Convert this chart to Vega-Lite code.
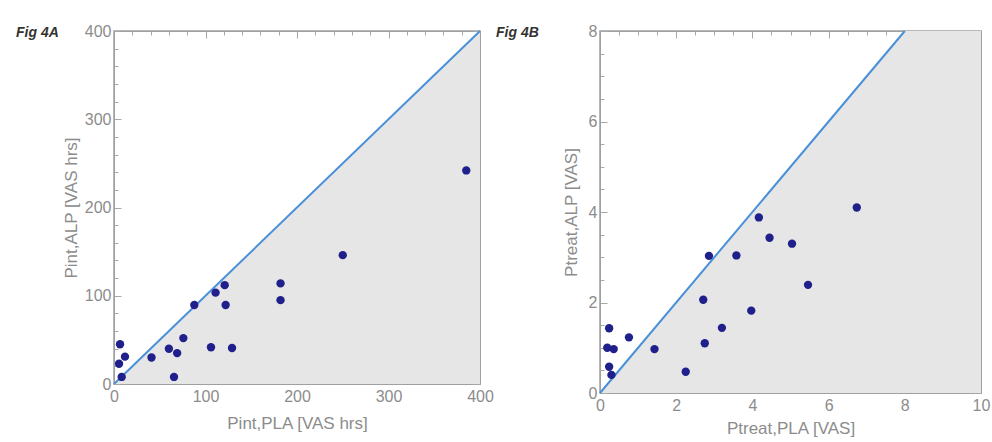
{
  "$schema": "https://vega.github.io/schema/vega-lite/v6.json",
  "padding": {"left": 15, "top": 22, "right": 0, "bottom": 0},
  "background": "white",
  "datasets": {
    "diagA": [{"x": 0, "y": 0}, {"x": 400, "y": 400}],
    "diagB": [{"x": 0, "y": 0}, {"x": 8, "y": 8}],
    "shadeB": [{"x": 0, "y": 0}, {"x": 8, "y": 8}, {"x": 10, "y": 8}],
    "ptsA": [
      {"pla": 8.4, "alp": 8}, {"pla": 6.6, "alp": 45}, {"pla": 5.5, "alp": 23}, {"pla": 12, "alp": 31},
      {"pla": 41, "alp": 30}, {"pla": 60, "alp": 40}, {"pla": 69, "alp": 35}, {"pla": 65.6, "alp": 8},
      {"pla": 75.8, "alp": 52}, {"pla": 87.8, "alp": 89.5}, {"pla": 106, "alp": 41.6}, {"pla": 111, "alp": 103.5},
      {"pla": 121, "alp": 112}, {"pla": 122, "alp": 89.5}, {"pla": 129, "alp": 40.8}, {"pla": 182, "alp": 114},
      {"pla": 182, "alp": 95}, {"pla": 250, "alp": 146}, {"pla": 385, "alp": 242}
    ],
    "ptsB": [
      {"pla": 0.24, "alp": 1.43}, {"pla": 0.76, "alp": 1.23}, {"pla": 0.19, "alp": 1.0}, {"pla": 0.36, "alp": 0.97},
      {"pla": 0.24, "alp": 0.58}, {"pla": 0.3, "alp": 0.4}, {"pla": 1.43, "alp": 0.97}, {"pla": 2.25, "alp": 0.47},
      {"pla": 2.75, "alp": 1.1}, {"pla": 3.2, "alp": 1.44}, {"pla": 3.97, "alp": 1.82}, {"pla": 2.71, "alp": 2.06},
      {"pla": 2.86, "alp": 3.03}, {"pla": 3.58, "alp": 3.04}, {"pla": 4.45, "alp": 3.43}, {"pla": 5.04, "alp": 3.3},
      {"pla": 5.46, "alp": 2.39}, {"pla": 4.17, "alp": 3.88}, {"pla": 6.74, "alp": 4.1}
    ]
  },
  "config": {
    "view": {"stroke": "#a0a0a0", "strokeWidth": 1.5},
    "axis": {
      "grid": false,
      "labelFont": "Liberation Sans", "labelFontSize": 16, "labelColor": "#8c8c8c",
      "titleFont": "Liberation Sans", "titleFontSize": 17, "titleColor": "#8c8c8c", "titleFontWeight": "normal",
      "domainColor": "#a0a0a0", "tickColor": "#a8a8a8", "labelOverlap": false, "labelFlush": false
    },
    "title": {"font": "Liberation Sans", "fontStyle": "italic", "fontWeight": "bold", "fontSize": 14, "color": "#333333"}
  },
  "spacing": 0,
  "hconcat": [
    {
      "width": 366,
      "height": 353,
      "title": {"text": "Fig 4A", "anchor": "start", "frame": "group", "dx": -98, "dy": 17, "offset": 0},
      "resolve": {"axis": {"x": "independent", "y": "independent"}},
      "layer": [
        {
          "data": {"name": "diagA"},
          "mark": {"type": "area", "color": "#e6e6e6"},
          "encoding": {
            "x": {"field": "x", "type": "quantitative", "scale": {"domain": [0, 400], "nice": false},
              "axis": {"orient": "bottom", "values": [0,20,40,60,80,100,120,140,160,180,200,220,240,260,280,300,320,340,360,380,400],
                "labelExpr": "datum.value % 100 === 0 ? datum.label : ''",
                "tickSize": {"condition": {"test": "datum.value % 100 === 0", "value": -7}, "value": -4},
                "labelPadding": 11, "title": "Pint,PLA [VAS hrs]", "titlePadding": 8}},
            "y": {"field": "y", "type": "quantitative", "scale": {"domain": [0, 400], "nice": false},
              "axis": {"orient": "left", "values": [0,20,40,60,80,100,120,140,160,180,200,220,240,260,280,300,320,340,360,380,400],
                "labelExpr": "datum.value % 100 === 0 ? datum.label : ''",
                "tickSize": {"condition": {"test": "datum.value % 100 === 0", "value": -7}, "value": -4},
                "labelPadding": 10, "title": "Pint,ALP [VAS hrs]", "titlePadding": 4}},
            "y2": {"datum": 0}
          }
        },
        {
          "data": {"name": "diagA"},
          "mark": {"type": "line", "color": "#4a90d9", "strokeWidth": 2},
          "encoding": {
            "x": {"field": "x", "type": "quantitative",
              "axis": {"orient": "top", "values": [0,20,40,60,80,100,120,140,160,180,200,220,240,260,280,300,320,340,360,380,400],
                "labels": false, "title": null,
                "tickSize": {"condition": {"test": "datum.value % 100 === 0", "value": -7}, "value": -4}}},
            "y": {"field": "y", "type": "quantitative",
              "axis": {"orient": "right", "values": [0,20,40,60,80,100,120,140,160,180,200,220,240,260,280,300,320,340,360,380,400],
                "labels": false, "title": null,
                "tickSize": {"condition": {"test": "datum.value % 100 === 0", "value": -7}, "value": -4}}}
          }
        },
        {
          "data": {"name": "ptsA"},
          "mark": {"type": "circle", "size": 70, "color": "#20208c", "opacity": 1},
          "encoding": {
            "x": {"field": "pla", "type": "quantitative", "axis": null},
            "y": {"field": "alp", "type": "quantitative", "axis": null}
          }
        }
      ]
    },
    {
      "width": 381,
      "height": 362,
      "title": {"text": "Fig 4B", "anchor": "start", "frame": "group", "dx": -104, "dy": 17, "offset": 0},
      "resolve": {"axis": {"x": "independent", "y": "independent"}},
      "layer": [
        {
          "data": {"name": "shadeB"},
          "mark": {"type": "area", "color": "#e6e6e6"},
          "encoding": {
            "x": {"field": "x", "type": "quantitative", "scale": {"domain": [0, 10], "nice": false},
              "axis": {"orient": "bottom", "values": [0,0.5,1,1.5,2,2.5,3,3.5,4,4.5,5,5.5,6,6.5,7,7.5,8,8.5,9,9.5,10],
                "labelExpr": "datum.value % 2 === 0 ? format(datum.value, 'd') : ''",
                "tickSize": {"condition": {"test": "datum.value % 2 === 0", "value": -7}, "value": -4},
                "labelPadding": 11, "title": "Ptreat,PLA [VAS]", "titlePadding": 4}},
            "y": {"field": "y", "type": "quantitative", "scale": {"domain": [0, 8], "nice": false},
              "axis": {"orient": "left", "values": [0,0.5,1,1.5,2,2.5,3,3.5,4,4.5,5,5.5,6,6.5,7,7.5,8],
                "labelExpr": "datum.value % 2 === 0 ? format(datum.value, 'd') : ''",
                "tickSize": {"condition": {"test": "datum.value % 2 === 0", "value": -7}, "value": -4},
                "labelPadding": 10, "title": "Ptreat,ALP [VAS]", "titlePadding": 8}},
            "y2": {"datum": 0}
          }
        },
        {
          "data": {"name": "diagB"},
          "mark": {"type": "line", "color": "#4a90d9", "strokeWidth": 2},
          "encoding": {
            "x": {"field": "x", "type": "quantitative",
              "axis": {"orient": "top", "values": [0,0.5,1,1.5,2,2.5,3,3.5,4,4.5,5,5.5,6,6.5,7,7.5,8,8.5,9,9.5,10],
                "labels": false, "title": null,
                "tickSize": {"condition": {"test": "datum.value % 2 === 0", "value": -7}, "value": -4}}},
            "y": {"field": "y", "type": "quantitative",
              "axis": {"orient": "right", "values": [0,0.5,1,1.5,2,2.5,3,3.5,4,4.5,5,5.5,6,6.5,7,7.5,8],
                "labels": false, "title": null,
                "tickSize": {"condition": {"test": "datum.value % 2 === 0", "value": -7}, "value": -4}}}
          }
        },
        {
          "data": {"name": "ptsB"},
          "mark": {"type": "circle", "size": 70, "color": "#20208c", "opacity": 1},
          "encoding": {
            "x": {"field": "pla", "type": "quantitative", "axis": null},
            "y": {"field": "alp", "type": "quantitative", "axis": null}
          }
        }
      ]
    }
  ]
}
